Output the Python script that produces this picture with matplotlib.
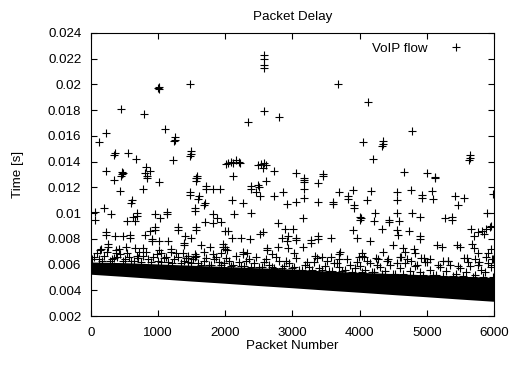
import numpy as np
import matplotlib.pyplot as plt
from matplotlib.ticker import FormatStrFormatter

# packet delay of a VoIP flow (seconds) against packet number

# solid body of the delay band: lower / upper edge sampled every 500 packets
band_x = [0, 500, 1000, 1500, 2000, 2500, 3000, 3500, 4000, 4500, 5000, 5500, 6000]
band_lo = [0.00525, 0.00508, 0.00490, 0.00472, 0.00455, 0.00437, 0.00420,
           0.00402, 0.00385, 0.00367, 0.00350, 0.00332, 0.00315]
band_hi = [0.00620, 0.00615, 0.00605, 0.00595, 0.00585, 0.00575, 0.00565,
           0.00550, 0.00540, 0.00530, 0.00520, 0.00510, 0.00500]

# packets just above the band
near_x = [50, 120, 200, 280, 350, 430, 500, 560, 640, 700, 780, 850, 930, 1000,
          1080, 1150, 1230, 1300, 1380, 1450, 1520, 1600, 1680, 1750, 1830, 1900,
          1980, 2050, 2120, 2200, 2280, 2350, 2420, 2500, 2580, 2650, 2720, 2800,
          2870, 2950, 3020, 3100, 3180, 3250, 3320, 3400, 3480, 3550, 3620, 3700,
          3780, 3850, 3930, 4000, 4080, 4150, 4220, 4300, 4380, 4450, 4520, 4600,
          4680, 4750, 4830, 4900, 4980, 5050, 5130, 5200, 5280, 5350, 5430, 5500,
          5580, 5650, 5720, 5800, 5870, 5950,
          20, 160, 310, 470, 600, 740, 900, 1050, 1200, 1340, 1490, 1640, 1790,
          1940, 2090, 2240, 2390, 2540, 2690, 2840, 2990, 3140, 3290, 3440, 3590,
          3740, 3890, 4040, 4190, 4340, 4490, 4640, 4790, 4940, 5090, 5240, 5390,
          5540, 5690, 5840, 5990]
near_y = [0.0066, 0.0064, 0.0067, 0.0063, 0.0065, 0.0068, 0.0064, 0.0066, 0.0063,
          0.0065, 0.0067, 0.0064, 0.0066, 0.0063, 0.0065, 0.0062, 0.0064, 0.0066,
          0.0063, 0.0062, 0.0064, 0.0061, 0.0063, 0.0060, 0.0064, 0.0062, 0.0061,
          0.0063, 0.0060, 0.0062, 0.0059, 0.0064, 0.0061, 0.0058, 0.0062, 0.0060,
          0.0057, 0.0063, 0.0059, 0.0061, 0.0058, 0.0056, 0.0060, 0.0058, 0.0062,
          0.0057, 0.0059, 0.0055, 0.0061, 0.0058, 0.0056, 0.0060, 0.0057, 0.0059,
          0.0056, 0.0061, 0.0054, 0.0058, 0.0055, 0.0060, 0.0053, 0.0057, 0.0061,
          0.0055, 0.0059, 0.0054, 0.0062, 0.0056, 0.0052, 0.0058, 0.0055, 0.0060,
          0.0053, 0.0057, 0.0054, 0.0059, 0.0052, 0.0056, 0.0054, 0.0058,
          0.0064, 0.0063, 0.0064, 0.0063, 0.0063, 0.0062, 0.0062, 0.0062, 0.0061,
          0.0061, 0.0061, 0.0060, 0.0060, 0.0060, 0.0059, 0.0059, 0.0058, 0.0058,
          0.0058, 0.0057, 0.0057, 0.0056, 0.0056, 0.0056, 0.0055, 0.0055, 0.0054,
          0.0054, 0.0054, 0.0053, 0.0053, 0.0053, 0.0052, 0.0052, 0.0052, 0.0051,
          0.0051, 0.0051, 0.0050, 0.0050, 0.0050]

# second, looser row of packets above the band
rim_x = [90, 240, 390, 540, 690, 820, 980, 1110, 1260, 1410, 1560, 1710, 1860,
         2010, 2160, 2310, 2460, 2610, 2760, 2910, 3060, 3210, 3360, 3510, 3660,
         3810, 3960, 4110, 4260, 4410, 4560, 4710, 4860, 5010, 5160, 5310, 5460,
         5610, 5760, 5910, 5970, 5880, 5720, 5560, 5240, 4920, 4620, 4280, 3990,
         3700, 3330, 3020, 2700, 2330, 2020, 1690, 1370, 1020, 720, 410, 130]
rim_y = [0.0069, 0.0070, 0.0066, 0.0069, 0.0067, 0.0070, 0.0068, 0.0066, 0.0069,
         0.0065, 0.0067, 0.0065, 0.0066, 0.0065, 0.0067, 0.0063, 0.0066, 0.0064,
         0.0066, 0.0063, 0.0065, 0.0062, 0.0065, 0.0063, 0.0061, 0.0064, 0.0062,
         0.0063, 0.0060, 0.0063, 0.0061, 0.0064, 0.0060, 0.0062, 0.0060, 0.0063,
         0.0059, 0.0062, 0.0060, 0.0061, 0.0064, 0.0066, 0.0064, 0.0065, 0.0063,
         0.0065, 0.0066, 0.0064, 0.0066, 0.0064, 0.0067, 0.0069, 0.0068, 0.0069,
         0.0071, 0.0070, 0.0069, 0.0071, 0.0070, 0.0072, 0.0071]

# scattered packets between 0.0065 and 0.013 s
mid_x = [340, 450, 830, 1010, 430, 770, 1580, 1570, 1710, 1710, 1820, 1920, 1470,
         1480, 1610, 1600, 1700, 1690, 610, 600, 1550, 1550, 60, 60, 190, 300, 680,
         690, 540, 620, 650, 950, 1030, 1130, 1130, 950, 960, 1290, 1300, 1560, 1560,
         1700, 1810, 220, 230, 360, 470, 580, 580, 800, 880, 910, 910, 1010, 1150,
         1380, 1390, 1400, 1490, 1640, 1770, 250, 250, 150, 370, 380, 520, 650, 770,
         1190, 1190, 1040, 1440, 1450, 1550, 1550, 1820, 1930, 1960, 1970, 1990,
         1820, 1880, 1930,
         2610, 3170, 3170, 3170, 3380, 3450, 2380, 2390, 2480, 2500, 2450, 2510, 2100,
         2260, 2380, 2130, 2720, 2860, 2920, 3050, 3170, 3380, 3600, 3600, 3690, 3830,
         3830, 3900, 3920, 3920, 4010, 4000, 3160, 2790, 2890, 3010, 2040, 2100, 2230,
         2370, 2520, 2560, 2840, 2930, 2920, 3050, 3050, 3280, 3280, 3380, 3380, 3570,
         3900, 3960, 2000, 1990, 2260, 2270, 2620, 2620, 2790, 2930, 3160, 3710, 3700,
         3440, 3570, 4040, 4040,
         5120, 4170, 4110, 4560, 4560, 4770, 4930, 4930, 5080, 5090, 5420, 5550, 5460,
         5990, 4230, 4220, 4330, 4020, 4440, 4440, 4560, 4590, 4780, 4900, 4560, 4570,
         4730, 4900, 4900, 5270, 5370, 5370, 5660, 5700, 5760, 5820, 5850, 5880, 5900,
         5940, 5960, 4150, 4500, 4650, 4680, 4810, 4820, 5150, 5230, 5450, 5500, 5680,
         5700, 5760, 5910, 5950, 4060, 4350, 4250, 4420, 4600, 4760, 4960, 5050, 5320,
         5600, 5780, 5980]
mid_y = [0.0126, 0.0129, 0.0127, 0.0124, 0.0117, 0.0119, 0.0127, 0.0125, 0.0121,
         0.0119, 0.0119, 0.0119, 0.0116, 0.0114, 0.0113, 0.0111, 0.0108, 0.0106,
         0.0110, 0.0108, 0.0104, 0.0102, 0.0101, 0.0095, 0.0104, 0.0099, 0.0100,
         0.0098, 0.0094, 0.0097, 0.0094, 0.0099, 0.0096, 0.0101, 0.0099, 0.0089,
         0.0087, 0.0089, 0.0087, 0.0089, 0.0087, 0.0093, 0.0092, 0.0085, 0.0083,
         0.0082, 0.0082, 0.0083, 0.0081, 0.0083, 0.0086, 0.0080, 0.0078, 0.0078,
         0.0078, 0.0077, 0.0075, 0.0082, 0.0081, 0.0075, 0.0074, 0.0076, 0.0074,
         0.0072, 0.0071, 0.0069, 0.0074, 0.0073, 0.0073, 0.0072, 0.0070, 0.0069,
         0.0067, 0.0065, 0.0068, 0.0066, 0.0068, 0.0069, 0.0076, 0.0074, 0.0086,
         0.0099, 0.0096, 0.0093,
         0.0125, 0.0126, 0.0124, 0.0119, 0.0123, 0.0129, 0.0121, 0.0119, 0.0122,
         0.0120, 0.0116, 0.0113, 0.0110, 0.0108, 0.0100, 0.0099, 0.0113, 0.0116,
         0.0107, 0.0109, 0.0112, 0.0109, 0.0109, 0.0107, 0.0116, 0.0113, 0.0111,
         0.0118, 0.0106, 0.0104, 0.0097, 0.0095, 0.0096, 0.0092, 0.0088, 0.0088,
         0.0086, 0.0081, 0.0081, 0.0080, 0.0084, 0.0085, 0.0081, 0.0082, 0.0078,
         0.0081, 0.0079, 0.0079, 0.0077, 0.0082, 0.0080, 0.0081, 0.0087, 0.0081,
         0.0074, 0.0072, 0.0070, 0.0068, 0.0073, 0.0071, 0.0074, 0.0073, 0.0074,
         0.0070, 0.0068, 0.0066, 0.0066, 0.0069, 0.0067,
         0.0127, 0.0117, 0.0110, 0.0116, 0.0110, 0.0118, 0.0114, 0.0112, 0.0117,
         0.0111, 0.0113, 0.0112, 0.0106, 0.0115, 0.0100, 0.0094, 0.0088, 0.0096,
         0.0095, 0.0093, 0.0100, 0.0094, 0.0100, 0.0097, 0.0087, 0.0083, 0.0086,
         0.0082, 0.0080, 0.0096, 0.0097, 0.0095, 0.0088, 0.0082, 0.0085, 0.0086,
         0.0084, 0.0088, 0.0100, 0.0089, 0.0090, 0.0078, 0.0075, 0.0073, 0.0070,
         0.0072, 0.0069, 0.0075, 0.0074, 0.0075, 0.0074, 0.0076, 0.0073, 0.0069,
         0.0069, 0.0072, 0.0066, 0.0070, 0.0065, 0.0064, 0.0066, 0.0063, 0.0065,
         0.0064, 0.0063, 0.0065, 0.0062, 0.0064]

# large delay spikes above 0.0125 s
high_x = [1000, 1010, 1020, 1480, 2580, 2580, 2580, 2575, 3680, 4130, 4350, 4350,
          4340, 4780, 450, 790, 2580, 2340, 2800, 220, 120, 1100, 1250, 1250, 1240,
          360, 350, 550, 670, 1490, 1490, 1480, 1220, 220, 460, 460, 470, 820, 880,
          810, 830, 1580, 1570, 2010, 4050, 4200, 4660, 5000, 5120, 5640, 5640, 5630,
          2040, 2080, 2120, 2160, 2200, 2220, 2490, 2530, 2580, 2600, 2560, 2110,
          2730, 3050, 3170, 3450]
high_y = [0.0197, 0.0196, 0.0198, 0.0200, 0.0223, 0.0220, 0.0215, 0.0213, 0.0200,
          0.0186, 0.0156, 0.0154, 0.0152, 0.0164, 0.0181, 0.0177, 0.0179, 0.0171,
          0.0175, 0.0162, 0.0155, 0.0165, 0.0159, 0.0157, 0.0156, 0.0147, 0.0145,
          0.0147, 0.0142, 0.0148, 0.0146, 0.0144, 0.0141, 0.0133, 0.0132, 0.0130,
          0.0131, 0.0136, 0.0133, 0.0131, 0.0129, 0.0129, 0.0127, 0.0138, 0.0155,
          0.0142, 0.0132, 0.0131, 0.0128, 0.0145, 0.0143, 0.0141, 0.0139, 0.0140,
          0.0139, 0.0141, 0.0140, 0.0139, 0.0137, 0.0138, 0.0139, 0.0137, 0.0135,
          0.0129, 0.0133, 0.0131, 0.0127, 0.0130]

y_ticks = [0.002, 0.004, 0.006, 0.008, 0.010, 0.012, 0.014, 0.016, 0.018, 0.020,
           0.022, 0.024]
x_ticks = [0, 1000, 2000, 3000, 4000, 5000, 6000]

plt.rcParams['font.family'] = ['Liberation Sans', 'DejaVu Sans']
fs = 9.6

fig = plt.figure(figsize=(5.14, 3.65), dpi=100)
ax = fig.add_axes([0.177, 0.134, 0.784, 0.776])

mk = dict(linestyle='none', marker='+', color='black', markersize=5.4,
          markeredgewidth=0.8)

ax.fill_between(band_x, band_lo, band_hi, color='black', linewidth=0)
ax.plot(near_x, near_y, **mk)
ax.plot(rim_x, rim_y, **mk)
ax.plot(mid_x, mid_y, **mk)
ax.plot(high_x, high_y, label='VoIP flow', **mk)

ax.set_xlim(0, 6000)
ax.set_ylim(0.002, 0.024)
ax.set_xticks(x_ticks)
ax.set_yticks(y_ticks)
ax.yaxis.set_major_formatter(FormatStrFormatter('%g'))
ax.tick_params(direction='in', length=4.5, width=0.8, top=True, right=True,
               labelsize=fs)
ax.tick_params(axis='x', pad=8)
ax.tick_params(axis='y', pad=7)
for s in ax.spines.values():
    s.set_linewidth(0.8)

ax.set_title('Packet Delay', fontsize=fs, pad=9.5)
ax.set_xlabel('Packet Number', fontsize=fs, labelpad=0.5)
ax.set_ylabel('Time [s]', fontsize=fs, labelpad=17)

ax.legend(loc='upper right', bbox_to_anchor=(0.988, 0.99), frameon=False,
          markerfirst=False, fontsize=fs, handlelength=4.0, borderaxespad=0.1,
          handletextpad=0.15)

fig.savefig('out.png', dpi=100)
